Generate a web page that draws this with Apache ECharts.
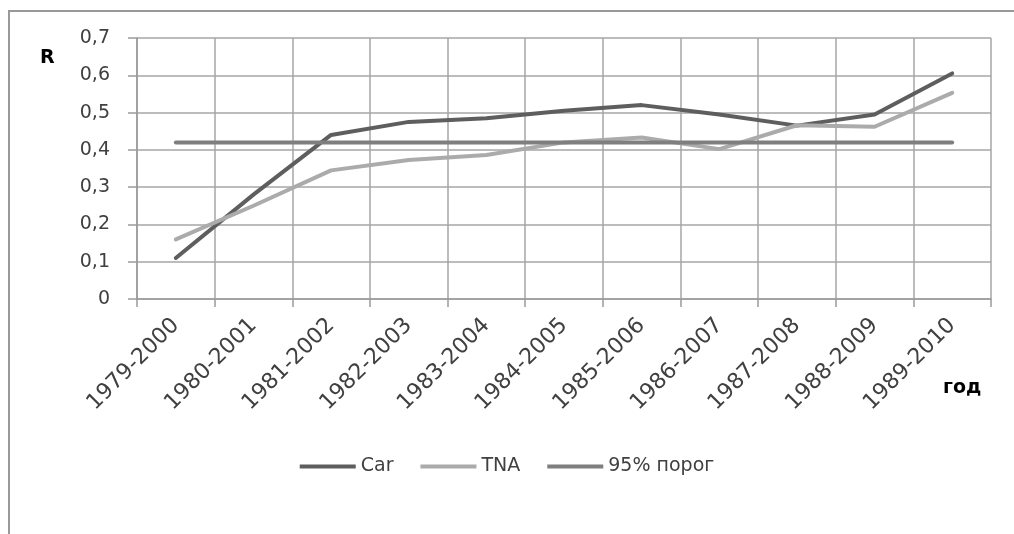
<!DOCTYPE html>
<html>
<head>
<meta charset="utf-8">
<script src="https://cdn.jsdelivr.net/npm/echarts@6/dist/echarts.min.js"></script>
<style>
  html, body { margin: 0; padding: 0; background: #ffffff; }
  #chart { width: 1014px; height: 534px; }
</style>
</head>
<body>
<div id="chart"></div>
<script>
const categories = ['1979-2000', '1980-2001', '1981-2002', '1982-2003', '1983-2004', '1984-2005', '1985-2006', '1986-2007', '1987-2008', '1988-2009', '1989-2010'];
const carValues = [0.11, 0.28, 0.44, 0.475, 0.485, 0.505, 0.52, 0.495, 0.465, 0.495, 0.605];
const tnaValues = [0.16, 0.25, 0.345, 0.373, 0.386, 0.42, 0.433, 0.402, 0.466, 0.462, 0.553];
const thresholdValues = [0.42, 0.42, 0.42, 0.42, 0.42, 0.42, 0.42, 0.42, 0.42, 0.42, 0.42];
const seriesNames = ['Car', 'TNA', '95% порог'];
const yTicks = { min: 0, max: 0.7, interval: 0.1 };

const FONT = 'DejaVu Sans';
const chart = echarts.init(document.getElementById('chart'), null, { renderer: 'canvas' });

function lineSeries(name, data, color) {
  return {
    name: name,
    type: 'line',
    data: data,
    symbol: 'none',
    showSymbol: false,
    lineStyle: { color: color, width: 4, cap: 'round', join: 'round' },
    itemStyle: { color: color },
    emphasis: { disabled: true },
    animation: false
  };
}

chart.setOption({
  animation: false,
  backgroundColor: '#ffffff',
  grid: { left: 137, top: 38, right: 23, bottom: 235, containLabel: false },
  xAxis: {
    type: 'category',
    data: categories,
    boundaryGap: true,
    axisLine: { show: true, lineStyle: { color: '#9a9a9a', width: 1.5 } },
    axisTick: { show: true, length: 8, lineStyle: { color: '#9a9a9a', width: 1.5 } },
    splitLine: { show: true, lineStyle: { color: '#a6a6a6', width: 1.5 } },
    axisLabel: { rotate: 45, margin: 23, color: '#404040', fontFamily: FONT, fontSize: 22, interval: 0 }
  },
  yAxis: {
    type: 'value',
    min: yTicks.min,
    max: yTicks.max,
    interval: yTicks.interval,
    axisLine: { show: true, lineStyle: { color: '#9a9a9a', width: 1.5 } },
    axisTick: { show: true, inside: false, length: 9, lineStyle: { color: '#9a9a9a', width: 1.5 } },
    splitLine: { show: true, lineStyle: { color: '#a6a6a6', width: 1.5 } },
    axisLabel: {
      margin: 27,
      color: '#404040',
      fontFamily: FONT,
      fontSize: 19,
      formatter: function (v) { return v === 0 ? '0' : v.toFixed(1).replace('.', ','); }
    }
  },
  legend: {
    data: seriesNames,
    left: 'center',
    top: 452,
    itemWidth: 56,
    itemHeight: 14,
    itemGap: 27,
    textStyle: { color: '#404040', fontFamily: FONT, fontSize: 19 },
    icon: 'path://M0,6 L56,6 L56,10 L0,10 Z'
  },
  graphic: [
    { type: 'rect', silent: true, shape: { x: 9, y: 11, width: 1200, height: 700 },
      style: { fill: 'none', stroke: '#999999', lineWidth: 2 } },
    { type: 'text', silent: true, left: 40, top: 49,
      style: { text: 'R', fill: '#000000', font: 'bold 19px "DejaVu Sans"' } },
    { type: 'text', silent: true, left: 943, top: 379,
      style: { text: 'год', fill: '#000000', font: 'bold 19px "DejaVu Sans"' } }
  ],
  series: [
    lineSeries(seriesNames[0], carValues, '#5e5e5e'),
    lineSeries(seriesNames[1], tnaValues, '#ababab'),
    lineSeries(seriesNames[2], thresholdValues, '#7f7f7f')
  ]
});
</script>
</body>
</html>
